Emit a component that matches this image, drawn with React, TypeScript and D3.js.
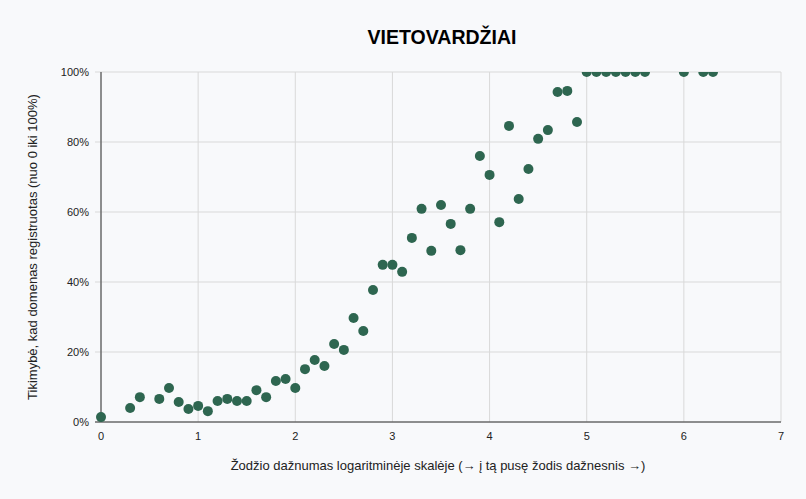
import React, { useEffect, useRef } from 'react';
import * as d3 from 'd3';

// Žodžio dažnumas (log skalė) ir tikimybė, kad domenas registruotas (%)
const xValues = [
  0, 0.3, 0.4, 0.6, 0.7, 0.8, 0.9, 1.0, 1.1, 1.2, 1.3, 1.4, 1.5, 1.6, 1.7, 1.8, 1.9, 2.0,
  2.1, 2.2, 2.3, 2.4, 2.5, 2.6, 2.7, 2.8, 2.9, 3.0, 3.1, 3.2, 3.3, 3.4, 3.5, 3.6, 3.7, 3.8,
  3.9, 4.0, 4.1, 4.2, 4.3, 4.4, 4.5, 4.6, 4.7, 4.8, 4.9, 5.0, 5.1, 5.2, 5.3, 5.4, 5.5, 5.6,
  6.0, 6.2, 6.3,
];
const yValues = [
  1.4, 4.0, 7.1, 6.6, 9.7, 5.7, 3.7, 4.6, 3.1, 6.0, 6.6, 6.0, 6.0, 9.1, 7.1, 11.7, 12.3, 9.7,
  15.1, 17.7, 16.0, 22.3, 20.6, 29.7, 26.0, 37.7, 44.9, 44.9, 42.9, 52.6, 60.9, 48.9, 62.0, 56.6, 49.1, 60.9,
  76.0, 70.6, 57.1, 84.6, 63.7, 72.3, 80.9, 83.4, 94.3, 94.6, 85.7, 100, 100, 100, 100, 100, 100, 100,
  100, 100, 100,
];
const xTicks = [0, 1, 2, 3, 4, 5, 6, 7];
const yTicks = [0, 20, 40, 60, 80, 100];

const title = 'VIETOVARDŽIAI';
const xAxisLabel = 'Žodžio dažnumas logaritminėje skalėje (→ į tą pusę žodis dažnesnis →)';
const yAxisLabel = 'Tikimybė, kad domenas registruotas (nuo 0 iki 100%)';

const width = 806;
const height = 499;
const margin = { top: 72, right: 25, bottom: 77, left: 101 };
const font = '"Liberation Sans", Arial, sans-serif';

const App: React.FC = () => {
  const svgRef = useRef<SVGSVGElement>(null);

  useEffect(() => {
    document.body.style.margin = '0';
    document.body.style.background = '#f8f9fb';

    const svg = d3.select(svgRef.current);
    svg.selectAll('*').remove();

    const innerWidth = width - margin.left - margin.right;
    const innerHeight = height - margin.top - margin.bottom;

    const xScale = d3.scaleLinear().domain([0, 7]).range([0, innerWidth]);
    const yScale = d3.scaleLinear().domain([0, 100]).range([innerHeight, 0]);

    svg.append('rect')
      .attr('width', width)
      .attr('height', height)
      .attr('fill', '#f8f9fb');

    // plot area clip (the 100% points are cut in half at the top edge)
    svg.append('defs')
      .append('clipPath')
      .attr('id', 'plot-clip')
      .append('rect')
      .attr('x', -10)
      .attr('y', 0)
      .attr('width', innerWidth + 20)
      .attr('height', innerHeight + 10);

    const g = svg.append('g')
      .attr('transform', `translate(${margin.left},${margin.top})`);

    // Grid
    g.selectAll('.grid-h')
      .data(yTicks)
      .enter()
      .append('line')
      .attr('x1', -6)
      .attr('x2', innerWidth)
      .attr('y1', d => yScale(d))
      .attr('y2', d => yScale(d))
      .style('stroke', '#d9d9d9')
      .style('stroke-width', '1px');

    g.selectAll('.grid-v')
      .data(xTicks)
      .enter()
      .append('line')
      .attr('x1', d => xScale(d))
      .attr('x2', d => xScale(d))
      .attr('y1', 0)
      .attr('y2', innerHeight)
      .style('stroke', '#d9d9d9')
      .style('stroke-width', '1px');

    // Axes lines
    g.append('line')
      .attr('x1', 0).attr('x2', 0)
      .attr('y1', 0).attr('y2', innerHeight)
      .style('stroke', '#333');
    g.append('line')
      .attr('x1', -6).attr('x2', innerWidth)
      .attr('y1', innerHeight).attr('y2', innerHeight)
      .style('stroke', '#333');

    // Tick labels
    g.selectAll('.ytick')
      .data(yTicks)
      .enter()
      .append('text')
      .attr('x', -12)
      .attr('y', d => yScale(d))
      .attr('dy', '0.35em')
      .attr('text-anchor', 'end')
      .style('font-family', font)
      .style('font-size', '11px')
      .style('fill', '#222')
      .text(d => `${d}%`);

    g.selectAll('.xtick')
      .data(xTicks)
      .enter()
      .append('text')
      .attr('x', d => xScale(d))
      .attr('y', innerHeight + 18)
      .attr('text-anchor', 'middle')
      .style('font-family', font)
      .style('font-size', '11px')
      .style('fill', '#222')
      .text(d => d);

    // Points
    const points = xValues.map((x, i) => ({ x, y: yValues[i] }));
    g.append('g')
      .attr('clip-path', 'url(#plot-clip)')
      .selectAll('.dot')
      .data(points)
      .enter()
      .append('circle')
      .attr('cx', d => xScale(d.x))
      .attr('cy', d => yScale(d.y))
      .attr('r', 5)
      .style('fill', '#2e6650');

    // Title
    svg.append('text')
      .attr('x', 442)
      .attr('y', 44)
      .attr('text-anchor', 'middle')
      .style('font-family', font)
      .style('font-size', '19.5px')
      .style('font-weight', 'bold')
      .style('fill', '#000')
      .text(title);

    // Axis labels
    svg.append('text')
      .attr('x', margin.left + innerWidth / 2 - 3)
      .attr('y', 470)
      .attr('text-anchor', 'middle')
      .style('font-family', font)
      .style('font-size', '13px')
      .style('fill', '#222')
      .text(xAxisLabel);

    svg.append('text')
      .attr('transform', 'rotate(-90)')
      .attr('x', -(margin.top + innerHeight / 2))
      .attr('y', 37)
      .attr('text-anchor', 'middle')
      .style('font-family', font)
      .style('font-size', '13px')
      .style('fill', '#222')
      .text(yAxisLabel);
  }, []);

  return <svg ref={svgRef} width={width} height={height} style={{ display: 'block' }} />;
};

export default App;
